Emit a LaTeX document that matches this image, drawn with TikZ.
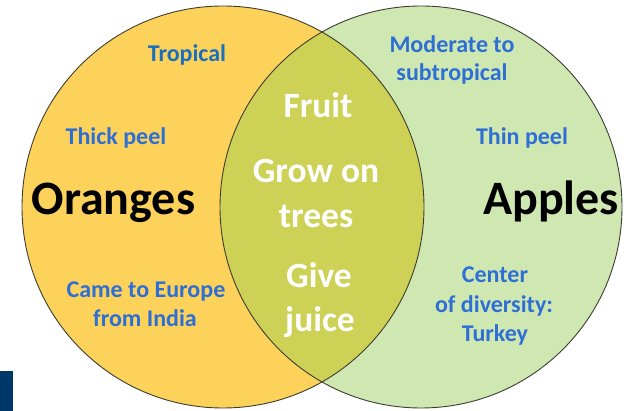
\documentclass[tikz,border=0pt]{standalone}
\usepackage{fontspec}
\setmainfont{Carlito}
\definecolor{orangefill}{RGB}{253,210,90}
\definecolor{greenfill}{RGB}{207,232,178}
\definecolor{olivefill}{RGB}{205,209,86}
\definecolor{edgecol}{RGB}{60,60,50}
\definecolor{navy}{RGB}{0,55,105}
\definecolor{blueA}{RGB}{26,111,190}
\definecolor{blueB}{RGB}{46,111,214}
\begin{document}
\begin{tikzpicture}[x=1pt,y=-1pt,
  bluetxt/.style={text=blueB,font=\fontsize{24}{28}\selectfont\bfseries,anchor=base,inner sep=0pt},
  whitetxt/.style={text=white,font=\fontsize{35.5}{40}\selectfont\bfseries,anchor=base,inner sep=0pt},
  bigtxt/.style={text=black,font=\fontsize{48}{54}\selectfont\bfseries,anchor=base,inner sep=0pt},
  circedge/.style={draw=edgecol,line width=0.9pt}]
\useasboundingbox (0,0) rectangle (627,411);
% circles
\fill[orangefill] (223,207) circle[radius=201];
\fill[greenfill] (421,207) circle[radius=201];
\begin{scope}
  \clip (223,207) circle[radius=201];
  \fill[olivefill] (421,207) circle[radius=201];
\end{scope}
\draw[circedge] (223,207) circle[radius=201];
\draw[circedge] (421,207) circle[radius=201];
% navy tab
\fill[navy] (0,371) rectangle (13,411);
% titles
\node[bigtxt] (oranges) at (113.5,215) {Oranges};
\node[bigtxt] (apples) at (551,215) {Apples};
% orange-only facts
\node[bluetxt,text=blueA] (tropical) at (187,62) {Tropical};
\node[bluetxt] (thick) at (116,145) {Thick peel};
\node[bluetxt] (came) at (146,298) {Came to Europe};
\node[bluetxt] (india) at (145,327) {from India};
% apple-only facts
\node[bluetxt] (moderate) at (452,53) {Moderate to};
\node[bluetxt] (subtrop) at (452,81) {subtropical};
\node[bluetxt] (thin) at (522,145) {Thin peel};
\node[bluetxt] (center) at (495,283) {Center};
\node[bluetxt] (diversity) at (494,313) {of diversity:};
\node[bluetxt] (turkey) at (495,342) {Turkey};
% shared
\node[whitetxt] (fruit) at (318,118) {Fruit};
\node[whitetxt] (grow) at (316,183) {Grow on};
\node[whitetxt] (trees) at (316,228) {trees};
\node[whitetxt] (give) at (319,288) {Give};
\node[whitetxt] (juice) at (320,332) {juice};
\end{tikzpicture}
\end{document}
